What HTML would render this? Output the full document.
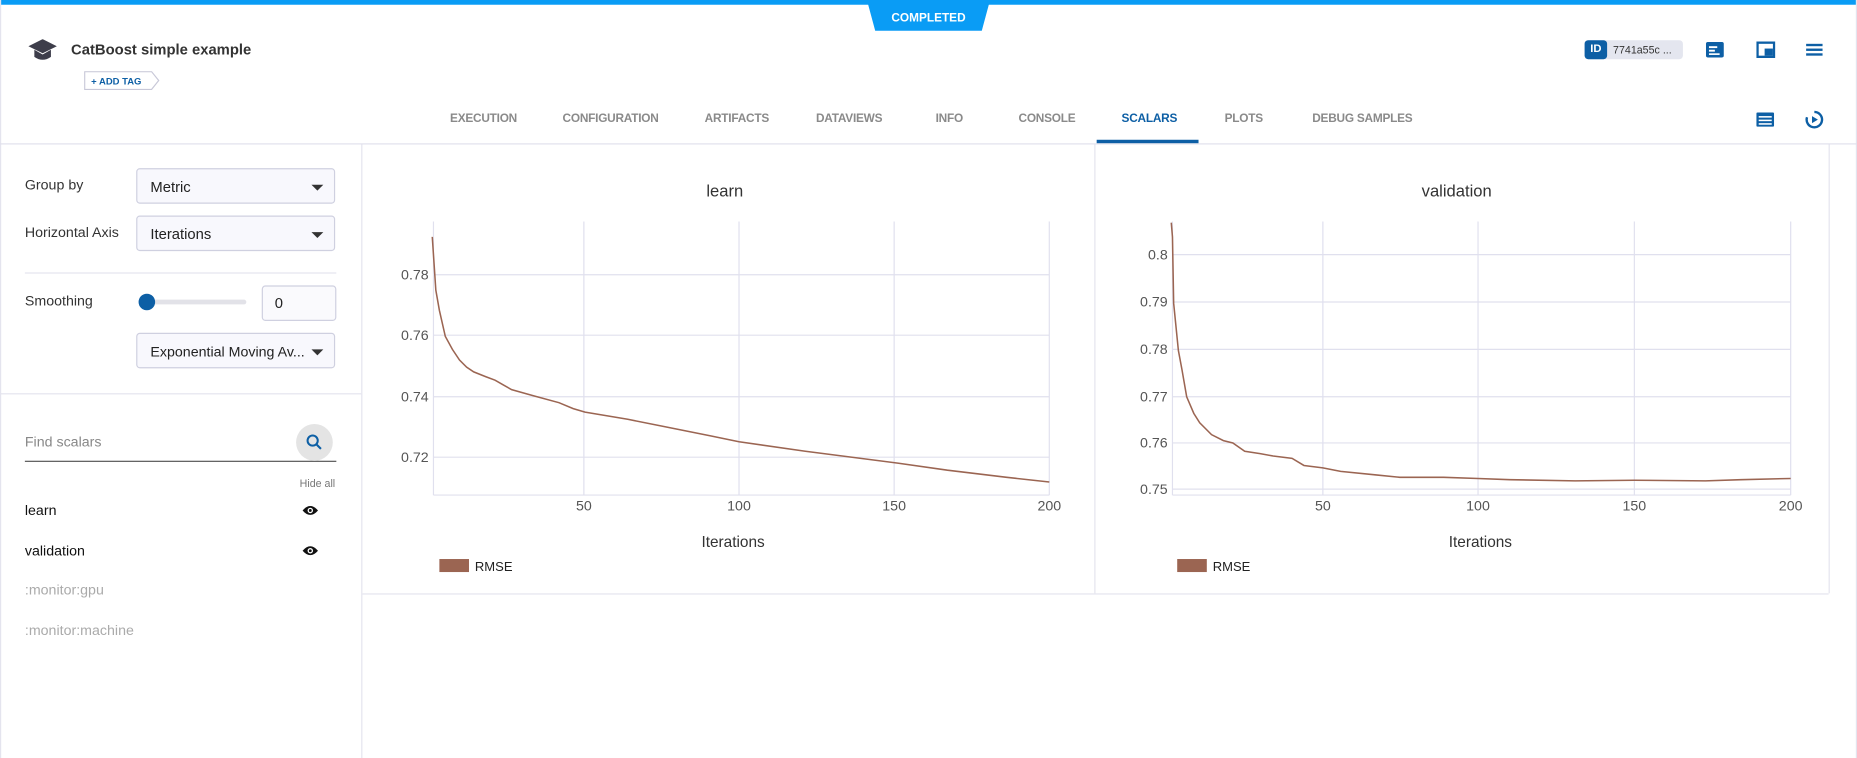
<!DOCTYPE html>
<html><head><meta charset="utf-8"><style>
*{box-sizing:border-box;margin:0;padding:0}
html,body{width:1857px;height:758px;overflow:hidden;background:#fff;font-family:"Liberation Sans",sans-serif}
#w{position:absolute;left:0;top:0;width:1568px;height:640px;transform:scale(1.18431,1.184375);transform-origin:0 0}
.a{position:absolute;white-space:nowrap}
.tab{position:absolute;top:95px;font-size:10px;color:#8a8a8a;font-weight:bold;letter-spacing:-0.2px}
.lbl{font-size:12px;color:#333}
.sel{position:absolute;left:115px;width:168px;height:30px;border:1px solid #cfd0e0;border-radius:3px;background:#f8f8fd;font-size:12.5px;color:#222;padding:8px 11px}
.sel:after{content:"";position:absolute;right:9px;top:13px;border-left:5px solid transparent;border-right:5px solid transparent;border-top:5px solid #333}
.tk{font-size:12px;fill:#555;font-family:"Liberation Sans",sans-serif}
</style></head><body><div id="w">
<div class="a" style="left:0;top:0;width:1568px;height:4px;background:#0a9cf5"></div>
<svg class="a" style="left:730px;top:0" width="110" height="27"><polygon points="2,0 106,0 99,26 9,26" fill="#0a9cf5"/><text x="54" y="18" text-anchor="middle" font-size="10" font-weight="bold" fill="#fff" font-family="Liberation Sans">COMPLETED</text></svg>
<div class="a" style="left:0;top:0;width:1px;height:640px;background:#e4e4ee"></div>
<div class="a" style="left:1567px;top:0;width:1px;height:640px;background:#e4e4ee"></div>
<svg class="a" style="left:24px;top:33px" width="24" height="20"><polygon points="12,0 24,6 12,12 0,6" fill="#3d3d4a"/><path d="M5,9 L5,15 Q12,20 19,15 L19,9 L12,13 Z" fill="#3d3d4a"/></svg>
<div class="a" style="left:60px;top:35px;font-size:12.5px;font-weight:bold;color:#333">CatBoost simple example</div>
<svg class="a" style="left:71px;top:60px" width="64" height="16"><path d="M0.5,0.5 H57 L63,8 L57,15.5 H0.5 Z" fill="#fff" stroke="#c8c8d8"/><text x="6" y="11.5" font-size="8" font-weight="bold" fill="#0d5fa5" font-family="Liberation Sans">+ ADD TAG</text></svg>
<div class="a" style="left:1338px;top:34px;width:83px;height:16px;background:#e4e6ef;border-radius:3px"></div>
<div class="a" style="left:1338px;top:34px;width:19px;height:16px;background:#0d5fa5;border-radius:3px;color:#fff;font-size:9.5px;font-weight:bold;text-align:center;line-height:16px">ID</div>
<div class="a" style="left:1362px;top:37px;font-size:9px;color:#333">7741a55c ...</div>
<svg class="a" style="left:1440px;top:35px" width="16" height="14"><rect x="0.5" y="0.5" width="15" height="13" rx="1.5" fill="#0d5fa5"/><rect x="3" y="4" width="7" height="1.6" fill="#fff"/><rect x="3" y="7" width="5" height="1.6" fill="#fff"/><rect x="3" y="10" width="9" height="1.4" fill="#fff"/></svg>
<svg class="a" style="left:1483px;top:35px" width="16" height="14"><rect x="1" y="1" width="14" height="12" fill="none" stroke="#0d5fa5" stroke-width="2"/><rect x="7" y="6" width="7" height="6" fill="#0d5fa5"/></svg>
<svg class="a" style="left:1525px;top:36px" width="14" height="12"><rect y="1" width="14" height="2" fill="#0d5fa5"/><rect y="5" width="14" height="2" fill="#0d5fa5"/><rect y="9" width="14" height="2" fill="#0d5fa5"/></svg>
<div class="tab" style="left:380px">EXECUTION</div>
<div class="tab" style="left:475px">CONFIGURATION</div>
<div class="tab" style="left:595px">ARTIFACTS</div>
<div class="tab" style="left:689px">DATAVIEWS</div>
<div class="tab" style="left:790px">INFO</div>
<div class="tab" style="left:860px">CONSOLE</div>
<div class="tab" style="left:947px;color:#0d5fa5">SCALARS</div>
<div class="tab" style="left:1034px">PLOTS</div>
<div class="tab" style="left:1108px">DEBUG SAMPLES</div>
<div class="a" style="left:926px;top:118px;width:86px;height:3px;background:#0d5fa5"></div>
<svg class="a" style="left:1483px;top:95px" width="15" height="12"><rect width="15" height="12" rx="1" fill="#0d5fa5"/><rect x="2" y="3" width="11" height="1.3" fill="#fff"/><rect x="2" y="6" width="11" height="1.3" fill="#fff"/><rect x="2" y="9" width="11" height="1.3" fill="#fff"/></svg>
<svg class="a" style="left:1524px;top:93px" width="16" height="16"><path d="M8,1.5 A6.5,6.5 0 1 1 1.8,6" fill="none" stroke="#0d5fa5" stroke-width="2"/><polygon points="6,5 11,8 6,11" fill="#0d5fa5"/></svg>
<div class="a" style="left:0;top:121px;width:1568px;height:1px;background:#e0e0ec"></div>
<div class="a" style="left:305px;top:122px;width:1px;height:518px;background:#e4e4ee"></div>
<div class="a lbl" style="left:21px;top:149px">Group by</div>
<div class="sel" style="top:142px">Metric</div>
<div class="a lbl" style="left:21px;top:189px">Horizontal Axis</div>
<div class="sel" style="top:182px">Iterations</div>
<div class="a" style="left:21px;top:230px;width:263px;height:1px;background:#e4e4ee"></div>
<div class="a lbl" style="left:21px;top:247px">Smoothing</div>
<div class="a" style="left:124px;top:253px;width:84px;height:4px;background:#e2e2e8;border-radius:2px"></div>
<div class="a" style="left:117px;top:248px;width:14px;height:14px;border-radius:50%;background:#0d5fa5"></div>
<div class="a" style="left:221px;top:241px;width:63px;height:30px;border:1px solid #cfd0e0;border-radius:3px;background:#fafafd;font-size:12.5px;padding:7px 10px;color:#222">0</div>
<div class="sel" style="top:281px;font-size:12px">Exponential Moving Av...</div>
<div class="a" style="left:0;top:332px;width:305px;height:1px;background:#e4e4ee"></div>
<div class="a" style="left:21px;top:366px;font-size:12px;color:#888">Find scalars</div>
<div class="a" style="left:21px;top:389px;width:263px;height:1px;background:#555"></div>
<div class="a" style="left:250px;top:358px;width:31px;height:31px;border-radius:50%;background:#e4e4e4"></div>
<svg class="a" style="left:258px;top:366px" width="15" height="15"><circle cx="6" cy="6" r="4.3" fill="none" stroke="#0d5fa5" stroke-width="1.7"/><line x1="9.2" y1="9.2" x2="13" y2="13" stroke="#0d5fa5" stroke-width="1.8"/></svg>
<div class="a" style="left:253px;top:403px;font-size:9px;color:#777">Hide all</div>
<div class="a" style="left:21px;top:424px;font-size:12px;color:#111">learn</div>
<div class="a" style="left:21px;top:458px;font-size:12px;color:#111">validation</div>
<div class="a" style="left:21px;top:491px;font-size:12px;color:#aaa">:monitor:gpu</div>
<div class="a" style="left:21px;top:525px;font-size:12px;color:#aaa">:monitor:machine</div>
<svg class="a" style="left:255px;top:426px" width="14" height="10"><path d="M0.5,5 Q7,-2.5 13.5,5 Q7,12.5 0.5,5Z" fill="#111"/><circle cx="7" cy="5" r="2.3" fill="#fff"/><circle cx="7" cy="5" r="1.2" fill="#111"/></svg>
<svg class="a" style="left:255px;top:460px" width="14" height="10"><path d="M0.5,5 Q7,-2.5 13.5,5 Q7,12.5 0.5,5Z" fill="#111"/><circle cx="7" cy="5" r="2.3" fill="#fff"/><circle cx="7" cy="5" r="1.2" fill="#111"/></svg>
<div class="a" style="left:924px;top:122px;width:1px;height:379px;background:#e4e4ee"></div>
<div class="a" style="left:306px;top:501px;width:1238px;height:1px;background:#e4e4ee"></div>
<div class="a" style="left:1544px;top:122px;width:1px;height:379px;background:#e4e4ee"></div>
<svg class="a" style="left:0;top:0" width="1568" height="640">
<g stroke="#e0e0ee" stroke-width="1">
<line x1="493" y1="187" x2="493" y2="418"/><line x1="624" y1="187" x2="624" y2="418"/><line x1="755" y1="187" x2="755" y2="418"/><line x1="886" y1="187" x2="886" y2="418"/>
<line x1="366" y1="232" x2="886" y2="232"/><line x1="366" y1="283" x2="886" y2="283"/><line x1="366" y1="335" x2="886" y2="335"/><line x1="366" y1="386" x2="886" y2="386"/>
<line x1="366" y1="187" x2="366" y2="418"/><line x1="366" y1="418" x2="886" y2="418"/>
<line x1="1117" y1="187" x2="1117" y2="418"/><line x1="1248" y1="187" x2="1248" y2="418"/><line x1="1380" y1="187" x2="1380" y2="418"/><line x1="1512" y1="187" x2="1512" y2="418"/>
<line x1="990" y1="215" x2="1512" y2="215"/><line x1="990" y1="255" x2="1512" y2="255"/><line x1="990" y1="295" x2="1512" y2="295"/><line x1="990" y1="335" x2="1512" y2="335"/><line x1="990" y1="374" x2="1512" y2="374"/><line x1="990" y1="413" x2="1512" y2="413"/>
<line x1="990" y1="187" x2="990" y2="418"/><line x1="990" y1="418" x2="1512" y2="418"/>
</g>
<text x="612" y="166" text-anchor="middle" font-size="14" fill="#333" font-family="Liberation Sans">learn</text>
<text x="1230" y="166" text-anchor="middle" font-size="14" fill="#333" font-family="Liberation Sans">validation</text>
<g class="tk" text-anchor="end"><text x="362" y="236">0.78</text><text x="362" y="287">0.76</text><text x="362" y="339">0.74</text><text x="362" y="390">0.72</text>
<text x="986" y="219">0.8</text><text x="986" y="259">0.79</text><text x="986" y="299">0.78</text><text x="986" y="339">0.77</text><text x="986" y="378">0.76</text><text x="986" y="417">0.75</text></g>
<g class="tk" text-anchor="middle"><text x="493" y="431">50</text><text x="624" y="431">100</text><text x="755" y="431">150</text><text x="886" y="431">200</text>
<text x="1117" y="431">50</text><text x="1248" y="431">100</text><text x="1380" y="431">150</text><text x="1512" y="431">200</text></g>
<text x="619" y="462" text-anchor="middle" font-size="13" fill="#333" font-family="Liberation Sans">Iterations</text>
<text x="1250" y="462" text-anchor="middle" font-size="13" fill="#333" font-family="Liberation Sans">Iterations</text>
<rect x="371" y="472" width="25" height="11" fill="#9b6552"/><text x="401" y="482" font-size="11" fill="#222" font-family="Liberation Sans">RMSE</text>
<rect x="994" y="472" width="25" height="11" fill="#9b6552"/><text x="1024" y="482" font-size="11" fill="#222" font-family="Liberation Sans">RMSE</text>
<polyline fill="none" stroke="#9b6552" stroke-width="1.3" points="365,200 368,245 371,262 376,284 382,295 388,304 394,310 400,314 410,318 418,321 425,325 432,329 450,334 472,340 484,345 494,348 530,354 560,360 600,368 624,373 680,381 758,391 800,397 850,403 886,407"/>
<polyline fill="none" stroke="#9b6552" stroke-width="1.3" points="989,188 990,200 991,256 995,296 998,312 1002,335 1008,349 1013,357 1023,367 1033,372 1041,374 1051,381 1064,383 1075,385 1091,387 1101,393 1117,395 1132,398 1162,401 1182,403 1219,403 1248,404 1275,405 1330,406 1380,405.5 1440,406 1470,405 1512,404"/>
</svg>
</div></body></html>
